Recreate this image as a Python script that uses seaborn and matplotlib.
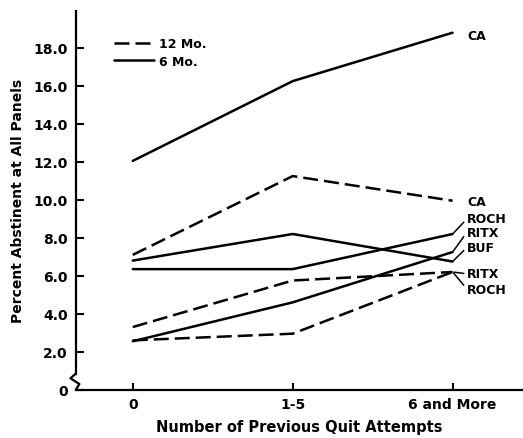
import pandas as pd
import numpy as np
import matplotlib.pyplot as plt
import seaborn as sns
from matplotlib import transforms

# Values
attempts = ["0", "1-5", "6 and More"]
six_mo_ca = [12.05, 16.25, 18.8]
six_mo_roch = [6.35, 6.35, 8.2]
six_mo_ritx = [2.55, 4.6, 7.25]
six_mo_buf = [6.8, 8.2, 6.75]
twelve_mo_ca = [7.1, 11.25, 9.95]
twelve_mo_ritx = [3.3, 5.75, 6.2]
twelve_mo_roch = [2.6, 2.95, 6.2]

series = {
    ("6 Mo.", "CA"): six_mo_ca,
    ("6 Mo.", "ROCH"): six_mo_roch,
    ("6 Mo.", "RITX"): six_mo_ritx,
    ("6 Mo.", "BUF"): six_mo_buf,
    ("12 Mo.", "CA"): twelve_mo_ca,
    ("12 Mo.", "RITX"): twelve_mo_ritx,
    ("12 Mo.", "ROCH"): twelve_mo_roch,
}

rows = []
for (period, site), vals in series.items():
    for i, v in enumerate(vals):
        rows.append({"period": period, "site": site, "unit": period + site, "x": i, "pct": v})
df = pd.DataFrame(rows)

sns.set_style("ticks")
plt.rcParams["font.family"] = ["DejaVu Sans"]
plt.rcParams["font.weight"] = "bold"
for k in ["text.color", "axes.labelcolor", "xtick.color", "ytick.color", "axes.edgecolor"]:
    plt.rcParams[k] = "black"

fig, ax = plt.subplots(figsize=(5.23, 4.39), dpi=100)
plt.subplots_adjust(left=0.145, right=1.0, bottom=0.11, top=0.973)

sns.lineplot(data=df, x="x", y="pct", units="unit", estimator=None,
             style="period", style_order=["12 Mo.", "6 Mo."],
             dashes={"12 Mo.": (6, 2.4), "6 Mo.": ""},
             color="black", lw=1.8, ax=ax)

# Legend
handles, labels = ax.get_legend_handles_labels()
pairs = [(h, l) for h, l in zip(handles, labels) if l in ("12 Mo.", "6 Mo.")]
ax.legend([p[0] for p in pairs], [p[1] for p in pairs], loc="upper left",
          bbox_to_anchor=(0.06, 0.96), frameon=False, handlelength=3.2,
          handletextpad=0.4, labelspacing=0.35, prop={"size": 9, "weight": "bold"})

ax.set_xlim(-0.356, 2.44)
ax.set_ylim(0, 19.95)
ax.set_xticks(range(len(attempts)))
ax.set_xticklabels(attempts)
yt = np.arange(0, 20, 2)
ax.set_yticks(yt)
ax.set_yticklabels(["0"] + ["%.1f" % v for v in yt[1:]])
ax.tick_params(axis="both", direction="in", labelsize=10, width=1.5)
ax.tick_params(axis="y", length=6, pad=6)
ax.tick_params(axis="x", length=5, pad=5)

for s in ["top", "right"]:
    ax.spines[s].set_visible(False)
for s in ["left", "bottom"]:
    ax.spines[s].set_linewidth(1.6)
ax.spines["left"].set_bounds(0.85, 19.95)

# axis break zigzag at the bottom of the y axis
trans = transforms.blended_transform_factory(ax.transAxes, ax.transData)
ax.plot([0, -0.012, 0.008, 0], [0.85, 0.6, 0.3, 0], transform=trans,
        color="black", lw=1.6, clip_on=False)

ax.set_xlabel("Number of Previous Quit Attempts", fontsize=10.5, fontweight="bold", labelpad=6)
ax.set_ylabel("Percent Abstinent at All Panels", fontsize=10, fontweight="bold", labelpad=6)

# Right-hand series labels
lab_x = 2.09
ax.text(lab_x, 18.63, "CA", fontsize=9, fontweight="bold", va="center")
ax.text(lab_x, 9.9, "CA", fontsize=9, fontweight="bold", va="center")
label_spec = [
    ("ROCH", six_mo_roch[-1], 9.0),
    ("RITX", six_mo_ritx[-1], 8.3),
    ("BUF", six_mo_buf[-1], 7.5),
    ("RITX", twelve_mo_ritx[-1], 6.1),
    ("ROCH", twelve_mo_roch[-1], 5.3),
]
for name, yend, ylab in label_spec:
    ax.annotate(name, xy=(2, yend), xytext=(lab_x, ylab), fontsize=9,
                fontweight="bold", va="center", annotation_clip=False,
                arrowprops=dict(arrowstyle="-", lw=1.1, color="black",
                                shrinkA=0, shrinkB=1, relpos=(0, 0.5)))

plt.savefig("out.png", dpi=100)
